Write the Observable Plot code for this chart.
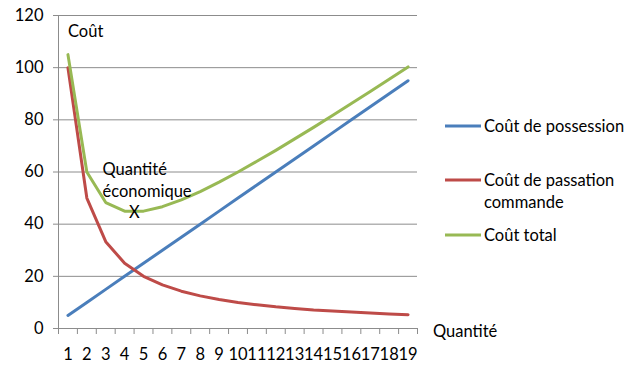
<!DOCTYPE html>
<html><head><meta charset="utf-8">
<script src="https://cdn.jsdelivr.net/npm/d3@7"></script>
<script src="https://cdn.jsdelivr.net/npm/@observablehq/plot@0.6"></script>
<style>
html,body{margin:0;padding:0;background:#fff;}
#chart{width:631px;height:377px;}
svg{font-family:Lato,"Open Sans",sans-serif;}
</style></head>
<body><div id="chart"></div>
<script>
const quantites = [1,2,3,4,5,6,7,8,9,10,11,12,13,14,15,16,17,18,19];
const coutPossession = [5,10,15,20,25,30,35,40,45,50,55,60,65,70,75,80,85,90,95];
const coutPassation = [100,50,33.3,25,20,16.7,14.3,12.5,11.1,10,9.1,8.3,7.7,7.1,6.7,6.3,5.9,5.6,5.3];
const coutTotal = [105,60,48.3,45,45,46.7,49.3,52.5,56.1,60,64.1,68.3,72.7,77.1,81.7,86.3,90.9,95.6,100.3];
const seriesNames = ["Coût de possession","Coût de passation commande","Coût total"];
const seriesColors = ["#4a7ebb","#be4b48","#98b954"];
const yTicks = [0,20,40,60,80,100,120];
const annotations = [
  {x:2.83, y:57.2, text:"Quantité\néconomique", anchor:"start"},
  {x:4.52, y:44.5, text:"X", anchor:"middle"}
];

const rows = [];
const allSeries = [coutPossession, coutPassation, coutTotal];
allSeries.forEach((vals,si)=>vals.forEach((v,i)=>rows.push({q:quantites[i], v, s:seriesNames[si]})));

const fs = 16.5;
const plot = Plot.plot({
  width:631, height:377,
  marginLeft:58, marginRight:214, marginTop:15, marginBottom:49,
  style:{fontFamily:"Lato, 'Open Sans', sans-serif", fontSize:fs+"px", color:"#000", background:"#fff"},
  x:{type:"linear", domain:[0.5,19.5]},
  y:{domain:[0,120]},
  color:{domain:seriesNames, range:seriesColors},
  marks:[
    Plot.gridY(yTicks,{stroke:"#8c8c8c", strokeOpacity:1, strokeWidth:1}),
    Plot.ruleX([0.5],{stroke:"#8c8c8c", strokeWidth:1}),
    Plot.axisY(yTicks,{tickSize:5, tickPadding:10, stroke:"#8c8c8c", fill:"#000", fontSize:fs, label:null}),
    Plot.axisX(d3.range(0.5,20,1),{tickSize:6, tickFormat:()=>"", stroke:"#8c8c8c", label:null}),
    Plot.axisX(quantites,{tickSize:0, tickPadding:20, fill:"#000", fontSize:fs, label:null}),
    Plot.lineY(rows,{x:"q", y:"v", z:"s", stroke:"s", strokeWidth:3, curve:"linear", strokeLinejoin:"round"}),
    Plot.text(annotations.filter(d=>d.anchor==="start"),{x:"x", y:"y", text:"text", textAnchor:"start", fill:"#000", fontSize:fs, lineHeight:1.33}),
    Plot.text(annotations.filter(d=>d.anchor==="middle"),{x:"x", y:"y", text:"text", fill:"#000", fontSize:fs}),
  ]
});
document.getElementById("chart").appendChild(plot);

const svg = d3.select(plot);
const addText = (x,y,t)=>svg.append("text").attr("x",x).attr("y",y).attr("dy","0.35em")
  .attr("text-anchor","start").attr("font-size",fs).attr("fill","#000").text(t);
addText(68,31,"Coût");
addText(433,331,"Quantité");

const legendY = [126,180,235];
const legendLines = [["Coût de possession"],["Coût de passation","commande"],["Coût total"]];
legendY.forEach((y,i)=>{
  svg.append("line").attr("x1",445).attr("x2",481).attr("y1",y).attr("y2",y)
    .attr("stroke",seriesColors[i]).attr("stroke-width",3);
  legendLines[i].forEach((t,j)=>addText(484,y+j*22,t));
});
</script></body></html>
